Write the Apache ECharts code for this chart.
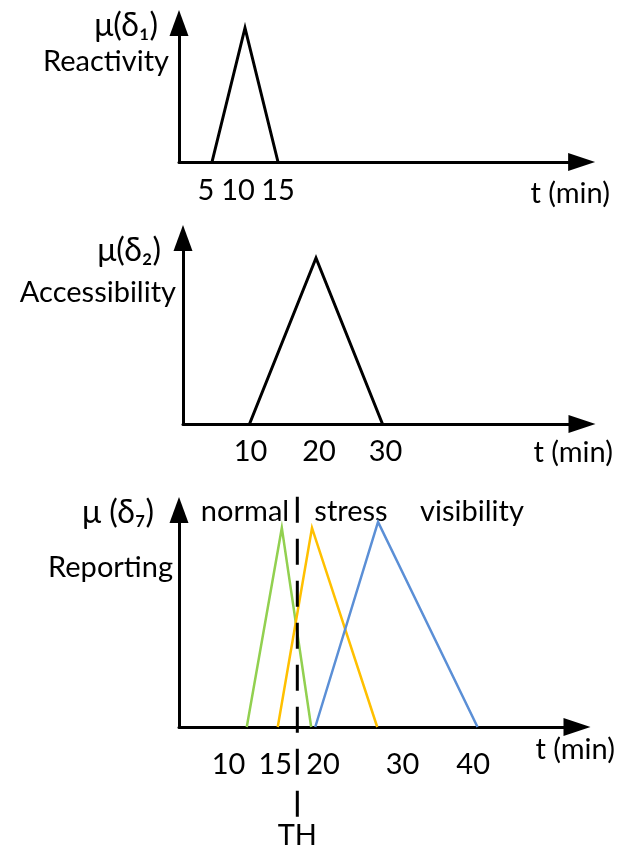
<!DOCTYPE html>
<html>
<head>
<meta charset="utf-8">
<script src="https://cdn.jsdelivr.net/npm/echarts@6/dist/echarts.min.js"></script>
<style>
  html, body { margin: 0; padding: 0; background: #fff; }
  #chart { width: 626px; height: 850px; }
</style>
</head>
<body>
<div id="chart"></div>
<script>
// ---- data ----
const reactivityT = [5, 10, 15];
const reactivityMu = [0, 1, 0];
const reactivityTicks = [5, 10, 15];

const accessibilityT = [10, 20, 30];
const accessibilityMu = [0, 1, 0];
const accessibilityTicks = [10, 20, 30];

const normalT = [11.5, 15.8, 19.4];
const normalMu = [0, 1, 0];
const stressT = [15.3, 19.5, 27.5];
const stressMu = [0, 1, 0];
const visibilityT = [19.9, 27.6, 39.8];
const visibilityMu = [0, 1.03, 0];
const reportingTicks = [10, 15, 20, 30, 40];

const thresholdT = 17.7;
const thresholdLabel = 'TH';

// ---- styling ----
const FONT = 'Lato';
const FS = 29;
// horizontal nudges of individual tick labels (px, negative = left), per panel
const labelNudge = [
  { 5: -6, 10: -7, 15: 0 },
  { 10: 1, 20: 3, 30: 3 },
  { 10: -6, 15: 0, 20: 7, 30: 5, 40: -6 }
];
function pts(xs, ys) { return xs.map((x, i) => [x, ys[i]]); }

const chart = echarts.init(document.getElementById('chart'), null, { renderer: 'canvas' });

function xAxisCfg(idx, min, max, ticks, margin) {
  const nudge = labelNudge[idx];
  const rich = {};
  ticks.forEach(v => {
    const d = nudge[v] || 0;
    rich['v' + v] = { fontSize: FS, fontFamily: FONT, color: '#000',
      padding: d < 0 ? [0, -2 * d, 0, 0] : [0, 0, 0, 2 * d] };
  });
  return {
    type: 'value', gridIndex: idx, min: min, max: max,
    splitLine: { show: false },
    axisTick: { show: false },
    axisLine: { show: true, onZero: false,
      lineStyle: { color: '#000', width: 3 },
      symbol: ['none', 'triangle'], symbolSize: [18, 27] },
    axisLabel: { show: true, customValues: ticks, margin: margin,
      color: '#000', fontSize: FS, fontFamily: FONT, hideOverlap: false,
      formatter: v => '{v' + v + '|' + v + '}', rich: rich }
  };
}
function yAxisCfg(idx, max) {
  return {
    type: 'value', gridIndex: idx, min: 0, max: max,
    splitLine: { show: false },
    axisTick: { show: false },
    axisLabel: { show: false },
    axisLine: { show: true, onZero: false,
      lineStyle: { color: '#000', width: 3 },
      symbol: ['none', 'triangle'], symbolSize: [19, 26] }
  };
}
function tri(idx, xs, ys, color, width) {
  return {
    type: 'line', xAxisIndex: idx, yAxisIndex: idx,
    data: pts(xs, ys), showSymbol: false, symbol: 'none', silent: true,
    lineStyle: { color: color, width: width, join: 'miter' },
    animation: false
  };
}
function txt(x, y, text, align, size) {
  return { type: 'text', x: x, y: y, silent: true,
    style: { text: text, fontSize: size || FS, fontFamily: FONT, fill: '#000',
      align: align || 'left', verticalAlign: 'middle',
      textAlign: align || 'left', textVerticalAlign: 'middle' } };
}

const option = {
  animation: false,
  backgroundColor: '#fff',
  grid: [
    { left: 179, top: 23, width: 61 * 6.6, height: 139, outerBoundsMode: 'none', containLabel: false },
    { left: 183, top: 238, width: 60 * 6.65, height: 186, outerBoundsMode: 'none', containLabel: false },
    { left: 179, top: 510, width: 398, height: 217, outerBoundsMode: 'none', containLabel: false }
  ],
  xAxis: [
    xAxisCfg(0, 0, 61, reactivityTicks, 14),
    xAxisCfg(1, 0, 60, accessibilityTicks, 13),
    xAxisCfg(2, 3.19, 52.0, reportingTicks, 23)
  ],
  yAxis: [
    yAxisCfg(0, 1.037),
    yAxisCfg(1, 1.12),
    yAxisCfg(2, 1.09)
  ],
  series: [
    tri(0, reactivityT, reactivityMu, '#000', 3),
    tri(1, accessibilityT, accessibilityMu, '#000', 3),
    tri(2, normalT, normalMu, '#92D050', 2.5),
    tri(2, stressT, stressMu, '#FFC000', 2.5),
    tri(2, visibilityT, visibilityMu, '#5B8FD6', 2.5),
    {
      type: 'line', xAxisIndex: 2, yAxisIndex: 2, clip: false, silent: true,
      data: [[thresholdT, 1.156], { value: [thresholdT, -0.457],
        label: { show: true, formatter: thresholdLabel, position: 'bottom', distance: 3,
          color: '#000', fontSize: FS, fontFamily: FONT } }],
      showSymbol: true, showAllSymbol: true, symbol: 'circle', symbolSize: 1,
      itemStyle: { color: 'rgba(0,0,0,0)' },
      lineStyle: { color: '#000', width: 3, type: [26, 16] },
      z: 5
    }
  ],
  graphic: { elements: [
    txt(158, 26, 'μ(δ₁)', 'right', 32),
    txt(169, 62, 'Reactivity', 'right'),
    txt(610, 194, 't (min)', 'right'),
    txt(161, 251, 'μ(δ₂)', 'right', 32),
    txt(176, 293, 'Accessibility', 'right'),
    txt(613, 453, 't (min)', 'right'),
    txt(154, 513, 'μ (δ₇)', 'right', 32),
    txt(173, 568, 'Reporting', 'right'),
    txt(615, 750, 't (min)', 'right'),
    txt(245, 512, 'normal', 'center'),
    txt(351, 512, 'stress', 'center'),
    txt(472, 512, 'visibility', 'center')
  ] }
};
chart.setOption(option);
</script>
</body>
</html>
